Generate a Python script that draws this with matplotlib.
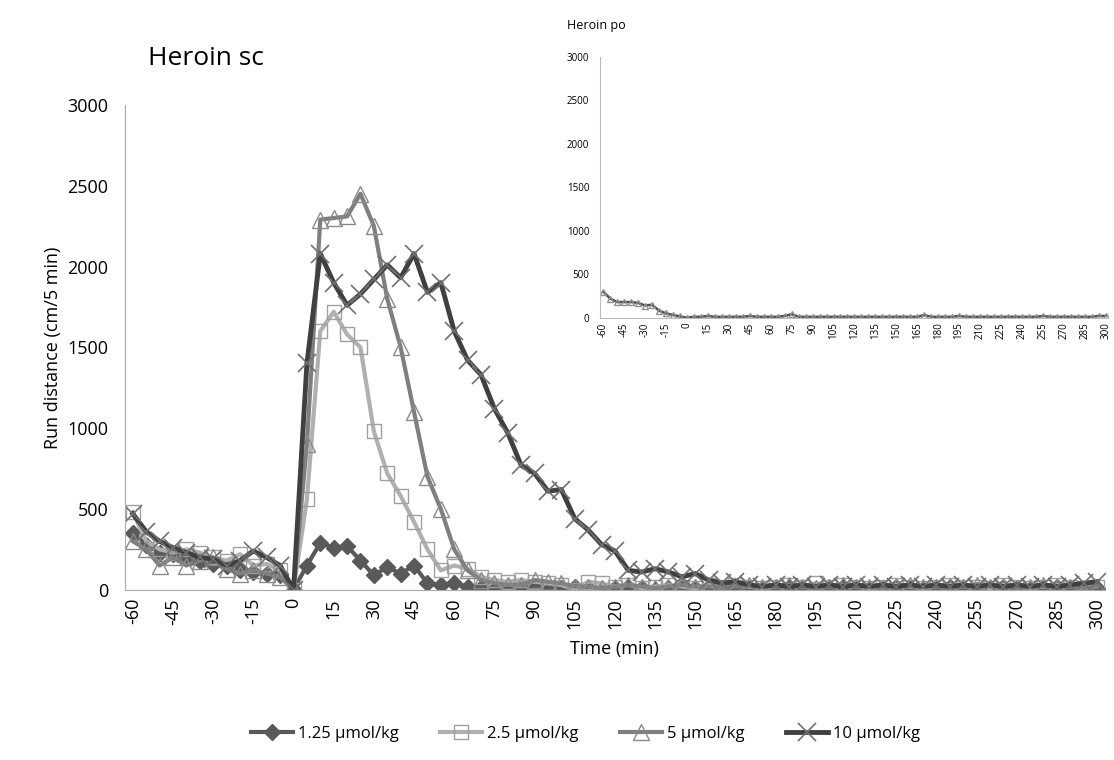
import numpy as np
import matplotlib
matplotlib.use('Agg')
import matplotlib.pyplot as plt

plt.rcParams['font.family'] = ['Open Sans', 'DejaVu Sans']

times = list(range(-60, 305, 5))
tick_times = list(range(-60, 305, 15))

d125 = [350, 280, 230, 220, 200, 180, 160, 150, 120, 110, 100, 90,
        0, 150, 290, 260, 270, 180, 90, 140, 100, 150, 40, 30, 40, 20, 10, 0,
        10, 20, 10, 0, 10, 20, 10, 0, 10, 20, 10, 0, 10, 20, 10, 0, 10, 20, 10, 0,
        10, 20, 10, 0, 10, 20, 10, 0, 10, 20, 10, 0, 10, 20, 10, 0, 10, 20, 10, 0,
        10, 20, 10, 0, 10]
d25 = [480, 300, 250, 230, 250, 230, 200, 180, 220, 150, 160, 120,
       0, 560, 1600, 1720, 1580, 1500, 980, 720, 580, 420, 250, 120, 150, 130, 80, 60,
       50, 60, 50, 40, 30, 0, 50, 40, 20, 30, 10, 20, 30, 20, 10, 30, 20, 30, 20, 10,
       20, 30, 20, 40, 20, 30, 20, 10, 20, 30, 20, 10, 20, 30, 20, 20, 10, 30, 20, 10,
       20, 30, 20, 10, 20]
d5 = [300, 250, 150, 200, 150, 180, 200, 130, 100, 120, 100, 80,
      0, 900, 2290, 2300, 2310, 2450, 2250, 1800, 1500, 1100, 700, 500, 250, 120, 60, 40,
      30, 30, 60, 50, 40, 20, 20, 10, 20, 30, 20, 10, 20, 30, 20, 20, 10, 20, 30, 20,
      20, 30, 20, 10, 20, 30, 20, 20, 10, 20, 30, 20, 20, 10, 20, 30, 20, 20, 10, 20,
      30, 20, 20, 10, 20]
d10 = [470, 360, 300, 260, 230, 200, 190, 150, 180, 240, 200, 150,
       0, 1400, 2080, 1900, 1760, 1830, 1920, 2010, 1930, 2080, 1840, 1900, 1600, 1420, 1330, 1120,
       970, 770, 720, 610, 620, 440, 370, 280, 240, 120, 110, 130, 110, 80, 100, 60, 40, 50,
       30, 20, 30, 20, 30, 20, 30, 20, 30, 20, 30, 20, 30, 20, 30, 20, 30, 20, 30, 20,
       30, 20, 30, 20, 30, 40, 50]
po = [300, 220, 180, 180, 180, 170, 140, 150, 80, 50, 30, 15,
      0, 10, 10, 20, 10, 10, 10, 10, 10, 20, 10, 10, 10, 10, 20, 40,
      10, 10, 10, 10, 10, 10, 10, 10, 10, 10, 10, 10, 10, 10, 10, 10, 10, 10, 30, 10,
      10, 10, 10, 20, 10, 10, 10, 10, 10, 10, 10, 10, 10, 10, 10, 20, 10, 10, 10, 10,
      10, 10, 10, 20, 20]

fig = plt.figure(figsize=(11.14, 7.6), dpi=100)
ax = fig.add_axes([0.112, 0.224, 0.88, 0.638])

ax.plot(times, d125, color='#595959', lw=3, marker='D', ms=8, label='1.25 µmol/kg')
ax.plot(times, d25, color='#b0b0b0', lw=3, marker='s', ms=10, mfc='none', mec='#a0a0a0', label='2.5 µmol/kg')
ax.plot(times, d5, color='#7f7f7f', lw=3, marker='^', ms=11, mfc='none', mec='#8a8a8a', label='5 µmol/kg')
ax.plot(times, d10, color='#404040', lw=3.5, marker='x', ms=13, mew=1.2, mec='#707070', label='10 µmol/kg')

ax.set_xlim(-63, 303)
ax.set_ylim(0, 3000)
ax.set_xticks(tick_times)
ax.set_xticklabels([str(t) for t in tick_times], rotation=90, fontsize=13)
ax.set_yticks(range(0, 3001, 500))
ax.tick_params(axis='y', labelsize=13, length=0, pad=12)
ax.tick_params(axis='x', length=0, pad=6)
for s in ['top', 'right']:
    ax.spines[s].set_visible(False)
for s in ['left', 'bottom']:
    ax.spines[s].set_color('#aaaaaa')
ax.set_xlabel('Time (min)', fontsize=13, labelpad=8)
ax.set_ylabel('Run distance (cm/5 min)', fontsize=13)
fig.text(0.133, 0.915, 'Heroin sc', fontsize=19)

ax.legend(loc='upper center', bbox_to_anchor=(0.47, -0.25), ncol=4, frameon=False,
          fontsize=12, handlelength=2.5, handletextpad=0.3, columnspacing=2.5)

ins = fig.add_axes([0.539, 0.582, 0.456, 0.343])
ins.plot(times, po, color='#505050', lw=1.8, marker='^', ms=5, mfc='none', mec='#909090')
ins.set_xlim(-62, 302)
ins.set_ylim(0, 3000)
ins.set_xticks(tick_times)
ins.set_xticklabels([str(t) for t in tick_times], rotation=90, fontsize=7)
ins.set_yticks(range(0, 3001, 500))
ins.tick_params(axis='y', labelsize=7, length=0, pad=8)
ins.tick_params(axis='x', length=0)
for s in ['top', 'right']:
    ins.spines[s].set_visible(False)
for s in ['left', 'bottom']:
    ins.spines[s].set_color('#bbbbbb')
fig.text(0.509, 0.962, 'Heroin po', fontsize=9)

fig.savefig('out.png', dpi=100)
